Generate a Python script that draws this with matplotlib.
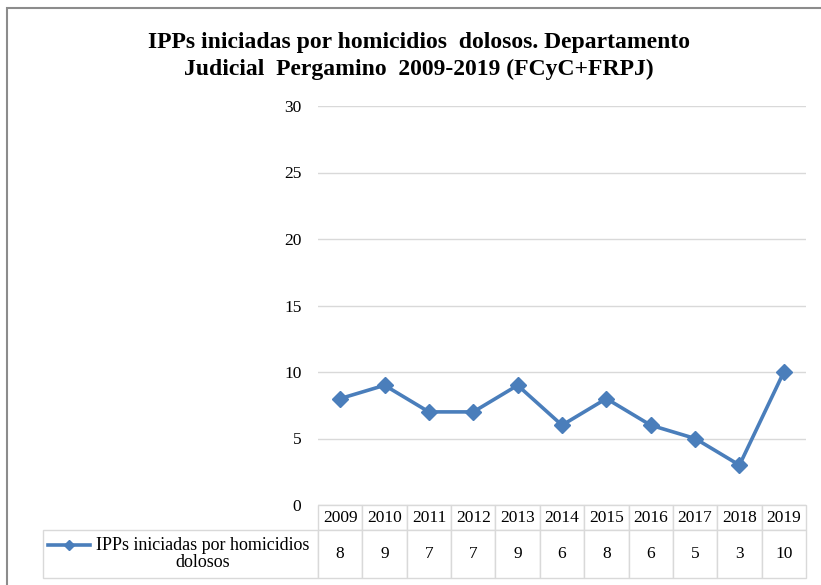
import matplotlib
matplotlib.use("Agg")
import matplotlib.pyplot as plt
from matplotlib.table import Table
from matplotlib.lines import Line2D
from matplotlib.patches import Rectangle

years = [2009, 2010, 2011, 2012, 2013, 2014, 2015, 2016, 2017, 2018, 2019]
values = [8, 9, 7, 7, 9, 6, 8, 6, 5, 3, 10]
series_label = "IPPs iniciadas por homicidios\ndolosos"
title = ("IPPs iniciadas por homicidios  dolosos. Departamento\n"
         "Judicial  Pergamino  2009-2019 (FCyC+FRPJ)")

plt.rcParams['font.family'] = ['Liberation Serif', 'DejaVu Serif']

BLUE = '#4A7EBB'
GRID = '#D9D9D9'
W, H = 821, 585
AX_W, AX_H = 488, 399

fig = plt.figure(figsize=(W / 100, H / 100), dpi=100)
# plot area in pixels: x 318..806, y 106..505
ax = fig.add_axes([318 / W, (H - 505) / H, AX_W / W, AX_H / H])

x = list(range(len(years)))
ax.plot(x, values, color=BLUE, lw=2.6, marker='D', ms=8, clip_on=False, zorder=3)
ax.set_xlim(-0.5, len(years) - 0.5)
ax.set_ylim(0, 30)
ax.set_yticks(range(0, 31, 5))
ax.set_xticks([])
for s in ax.spines.values():
    s.set_visible(False)
ax.tick_params(axis='y', length=0, pad=12, labelsize=12.5)
ax.grid(axis='y', color=GRID, lw=1)
ax.set_axisbelow(True)

# data table below the plot (sizes in axes units)
col_w = 1 / len(years)
head_h, row_h, lab_w = 25 / AX_H, 48 / AX_H, 275 / AX_W
tbl = Table(ax, loc='bottom')
for j, yr in enumerate(years):
    tbl.add_cell(0, j, col_w, head_h, text=str(yr), loc='center')
    tbl.add_cell(1, j, col_w, row_h, text=str(values[j]), loc='center')
tbl.add_cell(1, -1, lab_w, row_h, text='')
tbl.auto_set_font_size(False)
tbl.set_fontsize(12.5)
for cell in tbl.get_celld().values():
    cell.set_edgecolor(GRID)
    cell.set_linewidth(1)
ax.add_table(tbl)

# legend key inside the label cell
ly = 1 - 545 / H
fig.add_artist(Line2D([48 / W, 69 / W, 90 / W], [ly, ly, ly], color=BLUE, lw=2.6,
                      marker='D', ms=5, markevery=[1]))
fig.text(203 / W, 1 - 554 / H, series_label, ha='center', va='center',
         fontsize=13, linespacing=1.05)

fig.text(419 / W, 1 - 56 / H, title, ha='center', va='center',
         fontsize=17, fontweight='bold', linespacing=1.3)

# chart frame
fig.add_artist(Rectangle((7 / W, -0.1), 1.0, 1 - 8 / H + 0.1, transform=fig.transFigure,
                         fill=False, ec='#8C8C8C', lw=1.5))

fig.savefig('out.png', dpi=100)
